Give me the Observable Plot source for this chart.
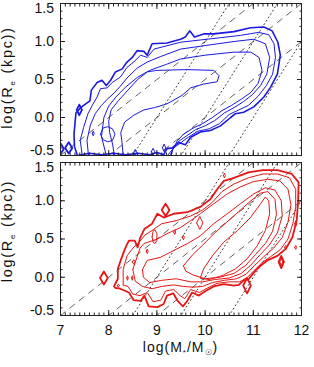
<!DOCTYPE html>
<html><head><meta charset="utf-8">
<script src="https://cdn.jsdelivr.net/npm/d3@7"></script>
<script src="https://cdn.jsdelivr.net/npm/@observablehq/plot@0.6"></script>
<style>
body{margin:0;background:#fff;}
#chart{width:314px;height:367px;}
#chart svg{display:block;}
</style></head><body><div id="chart"></div>
<script>
// ---------- axis / scale values ----------
const xDomain = [7, 12];
const yDomain = [-0.5, 1.5];
const xMajorTicks = [7, 8, 9, 10, 11, 12];
const yMajorTicks = [-0.5, 0.0, 0.5, 1.0, 1.5];
const xMinorTicks = d3.range(70, 121).map(d => d / 10);
const yMinorTicks = d3.range(-5, 16).map(d => d / 10);

// ---------- reference lines (log Re = slope*logM + c) ----------
const dashedSlope = 0.5;
const dashedIntercepts = [-4, -4.5, -5];
const dottedSlope = 1;
const dottedIntercepts = [-9, -10, -11];

// ---------- blue (top panel) contour levels: [logM, logRe] ----------
const blueLevel1 = [[7.35,-0.5],[7.29,-0.38],[7.28,-0.22],[7.30,-0.08],[7.32,0.06],[7.42,0.13],[7.48,0.16],[7.61,0.22],[7.64,0.36],[7.76,0.46],[7.86,0.49],[7.95,0.42],[8.04,0.49],[8.14,0.60],[8.28,0.64],[8.38,0.73],[8.49,0.79],[8.59,0.88],[8.73,0.87],[8.80,0.82],[8.90,0.97],[9.21,0.98],[9.49,1.03],[9.59,1.06],[9.68,1.14],[9.78,1.06],[9.97,1.10],[10.18,1.10],[10.60,1.13],[10.94,1.18],[11.22,1.19],[11.39,1.14],[11.51,0.99],[11.56,0.82],[11.50,0.57],[11.36,0.40],[11.22,0.27],[11.01,0.14],[10.80,0.07],[10.63,0.05],[10.53,0.0],[10.32,-0.11],[10.11,-0.17],[9.90,-0.19],[9.70,-0.26],[9.59,-0.36],[9.45,-0.33],[9.32,-0.40],[9.21,-0.41],[9.14,-0.49],[9.0,-0.46],[8.85,-0.49],[8.6,-0.47],[8.35,-0.49],[8.1,-0.47],[7.85,-0.49],[7.6,-0.47],[7.35,-0.5]];
const blueLevel2 = [[7.45,-0.5],[7.41,-0.30],[7.48,-0.13],[7.57,0.05],[7.66,0.16],[7.76,0.27],[7.83,0.38],[7.97,0.39],[8.07,0.46],[8.24,0.53],[8.38,0.66],[8.52,0.73],[8.66,0.82],[8.80,0.79],[8.94,0.90],[9.49,0.99],[9.90,1.02],[10.32,1.05],[10.73,1.08],[11.11,1.12],[11.32,1.09],[11.43,0.97],[11.46,0.79],[11.40,0.57],[11.27,0.42],[11.10,0.28],[10.90,0.16],[10.70,0.10],[10.50,0.04],[10.30,-0.08],[10.08,-0.15],[9.85,-0.18],[9.65,-0.26],[9.50,-0.33],[9.35,-0.40],[9.22,-0.5]];
const blueLevel3 = [[7.58,-0.5],[7.55,-0.30],[7.62,-0.10],[7.72,0.05],[7.85,0.16],[7.97,0.24],[8.11,0.32],[8.24,0.41],[8.38,0.52],[8.59,0.65],[8.80,0.73],[9.07,0.80],[9.49,0.90],[10.04,0.95],[10.60,1.00],[11.01,1.03],[11.25,0.97],[11.34,0.79],[11.28,0.57],[11.15,0.42],[10.98,0.30],[10.80,0.21],[10.60,0.13],[10.40,0.06],[10.20,-0.04],[10.00,-0.11],[9.80,-0.16],[9.62,-0.24],[9.46,-0.31],[9.34,-0.40],[9.28,-0.5]];
const blueLevel4 = [[7.95,-0.5],[7.85,-0.25],[7.90,0.0],[8.00,0.15],[8.15,0.27],[8.35,0.40],[8.60,0.53],[8.85,0.62],[9.20,0.70],[9.49,0.77],[10.0,0.82],[10.6,0.86],[10.95,0.86],[11.12,0.79],[11.18,0.62],[11.10,0.45],[10.95,0.33],[10.75,0.24],[10.55,0.16],[10.35,0.09],[10.15,0.0],[9.95,-0.08],[9.75,-0.14],[9.55,-0.22],[9.42,-0.31],[9.33,-0.42],[9.30,-0.5]];
const blueLevel5 = [[8.12,-0.5],[8.08,-0.35],[8.02,-0.2],[8.0,-0.05],[8.05,0.1],[8.2,0.22],[8.4,0.36],[8.6,0.5],[8.8,0.6],[9.0,0.62],[9.63,0.63],[10.18,0.62],[10.29,0.55],[10.25,0.47],[9.97,0.44],[9.70,0.39],[9.52,0.29],[9.21,0.18],[8.95,0.13],[8.73,0.10],[8.52,0.03],[8.33,-0.06],[8.25,-0.2],[8.28,-0.35],[8.3,-0.5]];
const blueIsland1 = [[7.83,-0.22],[7.88,-0.14],[7.98,-0.12],[8.08,-0.15],[8.13,-0.22],[8.08,-0.30],[7.98,-0.32],[7.88,-0.29],[7.83,-0.22]];
const blueIsland2 = [[7.66,-0.21],[7.68,-0.18],[7.70,-0.21],[7.68,-0.24],[7.66,-0.21]];
// diamonds: [centre logM, centre logRe, half-width, half-height]
const blueDiamondsThick = [[7.39,0.10,0.055,0.07],[7.17,-0.40,0.075,0.075],[7.0,-0.41,0.07,0.07]];
const blueDiamondsThin = [[8.92,-0.45,0.035,0.045],[9.15,-0.40,0.035,0.05],[8.55,-0.46,0.03,0.04]];

// ---------- red (bottom panel) contour levels ----------
const redLevel1 = [[8.14,-0.14],[8.11,-0.12],[8.19,-0.02],[8.19,0.11],[8.26,0.24],[8.35,0.39],[8.42,0.48],[8.54,0.48],[8.60,0.39],[8.65,0.51],[8.74,0.63],[8.90,0.70],[9.01,0.83],[9.14,0.78],[9.35,0.83],[9.63,0.85],[9.90,0.92],[10.11,1.02],[10.25,1.15],[10.39,1.26],[10.6,1.30],[10.9,1.37],[11.2,1.40],[11.5,1.40],[11.8,1.35],[11.94,1.24],[11.93,1.0],[11.90,0.74],[11.81,0.52],[11.67,0.37],[11.50,0.28],[11.29,0.22],[11.15,0.15],[11.05,0.09],[10.91,-0.02],[10.80,-0.04],[10.70,-0.10],[10.60,-0.11],[10.39,-0.09],[10.18,-0.12],[10.01,-0.18],[9.87,-0.24],[9.73,-0.20],[9.63,-0.31],[9.54,-0.38],[9.43,-0.31],[9.34,-0.21],[9.21,-0.24],[9.14,-0.35],[9.01,-0.39],[8.83,-0.38],[8.74,-0.24],[8.66,-0.31],[8.52,-0.30],[8.42,-0.20],[8.24,-0.15],[8.14,-0.14]];
const redLevel2 = [[8.30,-0.10],[8.30,0.10],[8.38,0.28],[8.50,0.38],[8.62,0.45],[8.75,0.55],[8.92,0.62],[9.10,0.70],[9.40,0.74],[9.70,0.80],[9.95,0.88],[10.15,0.98],[10.35,1.12],[10.6,1.22],[10.9,1.30],[11.2,1.35],[11.5,1.35],[11.75,1.30],[11.88,1.15],[11.88,0.92],[11.82,0.70],[11.72,0.50],[11.56,0.36],[11.36,0.27],[11.18,0.19],[11.02,0.09],[10.88,0.0],[10.72,-0.06],[10.50,-0.06],[10.25,-0.08],[10.05,-0.14],[9.88,-0.20],[9.70,-0.16],[9.58,-0.28],[9.48,-0.24],[9.35,-0.16],[9.18,-0.18],[9.08,-0.30],[8.92,-0.32],[8.80,-0.20],[8.65,-0.24],[8.50,-0.22],[8.40,-0.12],[8.30,-0.10]];
const redLevel3 = [[8.50,0.10],[8.65,0.38],[8.73,0.44],[9.01,0.50],[9.21,0.57],[9.49,0.65],[9.70,0.74],[9.90,0.83],[10.18,0.96],[10.46,1.09],[10.73,1.18],[11.0,1.25],[11.3,1.28],[11.55,1.26],[11.72,1.15],[11.78,0.95],[11.72,0.72],[11.60,0.52],[11.42,0.38],[11.22,0.27],[11.02,0.15],[10.85,0.04],[10.65,-0.02],[10.40,-0.04],[10.15,-0.07],[9.95,-0.12],[9.75,-0.13],[9.55,-0.12],[9.35,-0.10],[9.10,-0.12],[8.90,-0.15],[8.70,-0.12],[8.55,-0.05],[8.50,0.10]];
const redLevel4 = [[8.70,0.10],[8.80,0.22],[9.07,0.26],[9.35,0.35],[9.63,0.44],[9.90,0.54],[10.18,0.70],[10.46,0.83],[10.73,0.96],[11.01,1.09],[11.25,1.17],[11.45,1.14],[11.58,1.0],[11.60,0.80],[11.50,0.58],[11.33,0.42],[11.15,0.30],[10.95,0.16],[10.75,0.05],[10.50,-0.01],[10.20,-0.03],[9.95,-0.06],[9.70,-0.06],[9.40,-0.02],[9.10,-0.04],[8.85,-0.07],[8.72,0.0],[8.70,0.10]];
const redLevel5 = [[9.55,0.15],[9.75,0.30],[9.95,0.42],[10.2,0.58],[10.45,0.72],[10.7,0.86],[10.95,1.0],[11.15,1.10],[11.30,1.12],[11.45,1.02],[11.48,0.82],[11.40,0.60],[11.25,0.44],[11.05,0.30],[10.85,0.16],[10.60,0.05],[10.30,0.0],[10.0,-0.02],[9.75,0.03],[9.60,0.08],[9.55,0.15]];
const redLevel6 = [[9.90,-0.01],[9.97,0.11],[10.15,0.28],[10.39,0.46],[10.67,0.61],[10.94,0.78],[11.15,0.96],[11.25,1.05],[11.32,1.00],[11.34,0.83],[11.25,0.61],[11.08,0.41],[10.87,0.24],[10.63,0.11],[10.35,0.02],[10.08,-0.03],[9.90,-0.01]];
const redIsland1 = [[8.90,0.53],[8.92,0.60],[8.96,0.62],[9.0,0.57],[9.0,0.48],[8.96,0.44],[8.92,0.46],[8.90,0.53]];
const redDiamondsThick = [[7.90,-0.01,0.08,0.085],[9.18,0.88,0.08,0.08],[10.87,-0.11,0.08,0.10],[11.58,0.20,0.055,0.08]];
const redDiamondsThin = [[9.89,0.71,0.065,0.085],[11.58,0.20,0.03,0.05],[11.88,0.70,0.02,0.04],[11.67,0.39,0.02,0.025],[11.88,0.39,0.02,0.025],[9.37,0.59,0.02,0.03],[9.55,0.52,0.02,0.03],[8.52,0.20,0.03,0.03],[8.39,-0.01,0.015,0.03],[8.49,-0.01,0.015,0.03],[8.80,0.34,0.02,0.03],[8.20,-0.11,0.02,0.02],[10.40,1.33,0.02,0.03]];

// ---------- text ----------
const yTitleParts = [["log(R", 0], ["e", 1], [" (kpc))", 0]];
const xTitleParts = [["log(M", 0], ["*", 1], ["/M", 0], ["☉", 1], [")", 0]];

// ---------- styling ----------
const blueColor = "rgb(25,25,225)";
const redColor = "rgb(228,22,22)";
const fontFamily = "Liberation Sans";

// ---------- helpers ----------
function guideLines(slope, intercepts) {
  return intercepts.flatMap((c, i) => xDomain.map(x => ({x, y: slope * x + c, id: i})));
}
function diamondPts(list) {
  return list.flatMap(([cx, cy, w, h], i) =>
    [[cx - w, cy], [cx, cy + h], [cx + w, cy], [cx, cy - h], [cx - w, cy]].map(([x, y]) => ({x, y, id: i})));
}
const fmt = d => d.toFixed(1);

function panel({levels, widths, islands, dThick, dThin, color, height, marginTop, marginBottom, xLabels}) {
  const marks = [
    Plot.line(guideLines(dashedSlope, dashedIntercepts), {x: "x", y: "y", z: "id", stroke: "#3a3a3a", strokeWidth: 0.8, strokeDasharray: "6,6", clip: true}),
    Plot.line(guideLines(dottedSlope, dottedIntercepts), {x: "x", y: "y", z: "id", stroke: "#222", strokeWidth: 0.9, strokeDasharray: "1,3", clip: true}),
    ...levels.map((lv, i) => Plot.line(lv, {x: d => d[0], y: d => d[1], stroke: color, strokeWidth: widths[i], clip: true})),
    ...islands.map(lv => Plot.line(lv, {x: d => d[0], y: d => d[1], stroke: color, strokeWidth: 1, clip: true})),
    Plot.line(diamondPts(dThick), {x: "x", y: "y", z: "id", stroke: color, strokeWidth: 1.8, clip: true}),
    Plot.line(diamondPts(dThin), {x: "x", y: "y", z: "id", stroke: color, strokeWidth: 1, clip: true}),
    Plot.frame({stroke: "#222"}),
    ...["bottom", "top"].flatMap(anchor => [
      Plot.axisX(xMajorTicks, {anchor, tickSize: -5, tickFormat: () => "", label: null, stroke: "#222"}),
      Plot.axisX(xMinorTicks, {anchor, tickSize: -2.5, tickFormat: () => "", label: null, stroke: "#222"})
    ]),
    ...["left", "right"].flatMap(anchor => [
      Plot.axisY(yMajorTicks, {anchor, tickSize: -5, tickFormat: () => "", label: null, stroke: "#222"}),
      Plot.axisY(yMinorTicks, {anchor, tickSize: -2.5, tickFormat: () => "", label: null, stroke: "#222"})
    ]),
    Plot.axisY(yMajorTicks.slice(1, 4), {anchor: "left", tickSize: 0, tickPadding: 6.5, tickFormat: fmt, label: null, fill: "#111"}),
    Plot.axisY([yMajorTicks[4]], {anchor: "left", tickSize: 0, tickPadding: 6.5, tickFormat: fmt, label: null, dy: 5, fill: "#111"}),
    Plot.axisY([yMajorTicks[0]], {anchor: "left", tickSize: 0, tickPadding: 6.5, tickFormat: fmt, label: null, dy: -5, fill: "#111"})
  ];
  if (xLabels) {
    marks.push(Plot.axisX(xMajorTicks, {anchor: "bottom", tickSize: 0, tickPadding: 10, tickFormat: d => String(d), label: null, fill: "#111"}));
  }
  return Plot.plot({
    width: 314, height, marginLeft: 60, marginRight: 13, marginTop, marginBottom,
    x: {domain: xDomain}, y: {domain: yDomain},
    style: {fontFamily, fontSize: "14px", background: "#fff", overflow: "visible"},
    marks
  });
}

const topSvg = panel({
  levels: [blueLevel1, blueLevel2, blueLevel3, blueLevel4, blueLevel5],
  widths: [1.6, 1, 1, 1, 1],
  islands: [blueIsland1, blueIsland2],
  dThick: blueDiamondsThick, dThin: blueDiamondsThin,
  color: blueColor, height: 158, marginTop: 3, marginBottom: 3, xLabels: false
});
const bottomSvg = panel({
  levels: [redLevel1, redLevel2, redLevel3, redLevel4, redLevel5, redLevel6],
  widths: [1.8, 1, 1, 1, 1, 1],
  islands: [redIsland1],
  dThick: redDiamondsThick, dThin: redDiamondsThin,
  color: redColor, height: 209, marginTop: 4, marginBottom: 52, xLabels: true
});

function addTitle(t, parts, subSize, shift) {
  let prev = 0;
  for (const [s, sub] of parts) {
    const dy = sub ? shift : 0;
    const span = t.append("tspan").attr("dy", dy - prev).text(s);
    if (sub) span.attr("font-size", subSize);
    prev = dy;
  }
}
function yTitle(svg, cy) {
  const t = d3.select(svg).append("text")
    .attr("transform", `translate(11.5,${cy}) rotate(-90)`)
    .attr("text-anchor", "middle").attr("dy", "0.36em")
    .attr("font-family", fontFamily).attr("font-size", 14.5).attr("fill", "#111")
    .attr("letter-spacing", 1.7);
  addTitle(t, yTitleParts, 8, 3);
}
yTitle(topSvg, 77.5);
yTitle(bottomSvg, 73);

const xt = d3.select(bottomSvg).append("text")
  .attr("x", 180.5).attr("y", 194)
  .attr("text-anchor", "middle")
  .attr("font-family", fontFamily).attr("font-size", 14).attr("fill", "#111")
  .attr("letter-spacing", 1);
addTitle(xt, xTitleParts, 8, 3);

document.getElementById("chart").append(topSvg, bottomSvg);
</script>
</body></html>
